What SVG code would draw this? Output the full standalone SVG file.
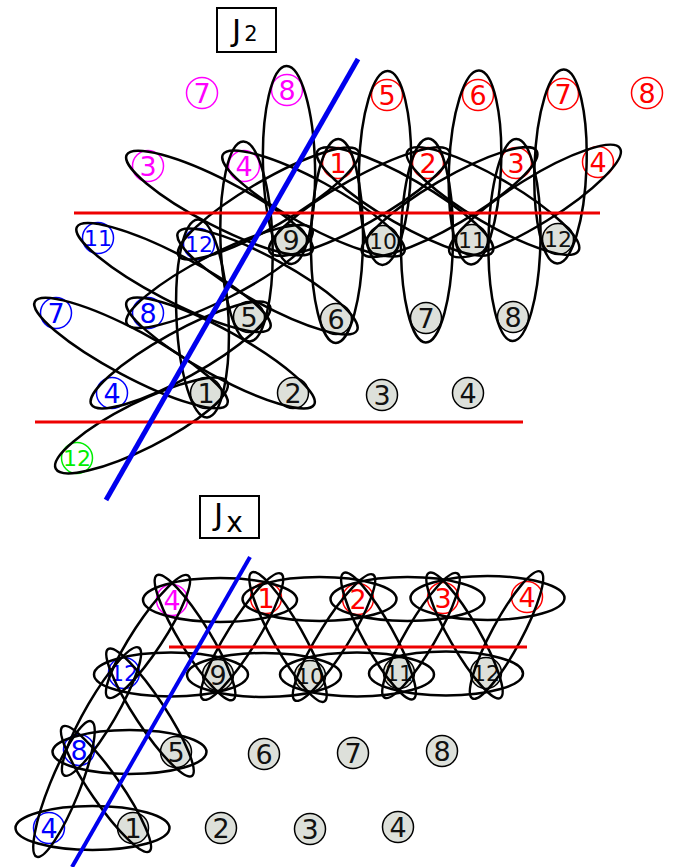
<svg xmlns="http://www.w3.org/2000/svg" width="678" height="867" viewBox="0 0 678 867">
<style>
text{font-family:"DejaVu Sans","Liberation Sans",sans-serif;text-anchor:middle}
.gn circle{fill:#dde0da;stroke:#000;stroke-width:1.5}
.gn text{fill:#111}
.rd circle{fill:#fff;stroke:#f00;stroke-width:1.5}
.rd text{fill:#f00}
.mg circle{fill:#fff;stroke:#f0f;stroke-width:1.5}
.mg text{fill:#f0f}
.bl circle{fill:#fff;stroke:#00f;stroke-width:1.5}
.bl text{fill:#00f}
.gr circle{fill:#fff;stroke:#0e0;stroke-width:1.5}
.gr text{fill:#0e0}
.s{font-size:27px}
.d{font-size:22px}
.bonds ellipse{fill:none;stroke:#000;stroke-width:2.5}
.rl{stroke:#e00;stroke-width:3}
.bline{stroke:#00e}
.lbl rect{fill:#fff;stroke:#000;stroke-width:2}
.lbl text{text-anchor:start}
</style>

<g id="label-J2" class="lbl"><rect x="217" y="8" width="59" height="44"/><text x="232" y="41" font-size="31">J<tspan font-size="21" dx="3">2</tspan></text></g>
<g id="label-Jx" class="lbl"><rect x="200" y="496" width="59" height="42"/><text x="214" y="525" font-size="31">J<tspan font-size="28" dx="3" dy="7">x</tspan></text></g>

<!-- top diagram nodes -->
<g id="t1" class="gn"><circle cx="206" cy="393" r="15.5"/><text x="206" y="403" class="s">1</text></g>
<g id="t2" class="gn"><circle cx="293" cy="393" r="15.5"/><text x="293" y="403" class="s">2</text></g>
<g id="t3" class="gn"><circle cx="382" cy="395" r="15.5"/><text x="382" y="405" class="s">3</text></g>
<g id="t4" class="gn"><circle cx="468" cy="393" r="15.5"/><text x="468" y="403" class="s">4</text></g>
<g id="t5" class="gn"><circle cx="249" cy="317" r="15.5"/><text x="249" y="327" class="s">5</text></g>
<g id="t6" class="gn"><circle cx="336" cy="319" r="15.5"/><text x="336" y="329" class="s">6</text></g>
<g id="t7" class="gn"><circle cx="426" cy="318" r="15.5"/><text x="426" y="328" class="s">7</text></g>
<g id="t8" class="gn"><circle cx="513" cy="317" r="15.5"/><text x="513" y="327" class="s">8</text></g>
<g id="t9" class="gn"><circle cx="291" cy="240" r="15.5"/><text x="291" y="250" class="s">9</text></g>
<g id="t10" class="gn"><circle cx="383" cy="241" r="15.5"/><text x="383" y="249" class="d">10</text></g>
<g id="t11" class="gn"><circle cx="472" cy="240" r="15.5"/><text x="472" y="248" class="d">11</text></g>
<g id="t12" class="gn"><circle cx="558" cy="239" r="15.5"/><text x="558" y="247" class="d">12</text></g>
<g id="tr1" class="rd"><circle cx="338" cy="163" r="15.5"/><text x="338" y="173" class="s">1</text></g>
<g id="tr2" class="rd"><circle cx="428" cy="163" r="15.5"/><text x="428" y="173" class="s">2</text></g>
<g id="tr3" class="rd"><circle cx="516" cy="163" r="15.5"/><text x="516" y="173" class="s">3</text></g>
<g id="tr4" class="rd"><circle cx="598" cy="162" r="15.5"/><text x="598" y="172" class="s">4</text></g>
<g id="tr5" class="rd"><circle cx="387" cy="95" r="15.5"/><text x="387" y="105" class="s">5</text></g>
<g id="tr6" class="rd"><circle cx="478" cy="95" r="15.5"/><text x="478" y="105" class="s">6</text></g>
<g id="tr7" class="rd"><circle cx="563" cy="94" r="15.5"/><text x="563" y="104" class="s">7</text></g>
<g id="tr8" class="rd"><circle cx="647" cy="93" r="15.5"/><text x="647" y="103" class="s">8</text></g>
<g id="tm7" class="mg"><circle cx="202" cy="93" r="15.5"/><text x="202" y="103" class="s">7</text></g>
<g id="tm8" class="mg"><circle cx="287" cy="90" r="15.5"/><text x="287" y="100" class="s">8</text></g>
<g id="tm3" class="mg"><circle cx="148" cy="166" r="15.5"/><text x="148" y="176" class="s">3</text></g>
<g id="tm4" class="mg"><circle cx="244" cy="166" r="15.5"/><text x="244" y="176" class="s">4</text></g>
<g id="tb11" class="bl"><circle cx="98" cy="238" r="15.5"/><text x="98" y="246" class="d">11</text></g>
<g id="tb12" class="bl"><circle cx="199" cy="244" r="15.5"/><text x="199" y="252" class="d">12</text></g>
<g id="tb7" class="bl"><circle cx="56" cy="313" r="15.5"/><text x="56" y="323" class="s">7</text></g>
<g id="tb8" class="bl"><circle cx="148" cy="313" r="15.5"/><text x="148" y="323" class="s">8</text></g>
<g id="tb4" class="bl"><circle cx="112" cy="393" r="15.5"/><text x="112" y="403" class="s">4</text></g>
<g id="tg12" class="gr"><circle cx="77" cy="458" r="15.5"/><text x="77" y="466" class="d">12</text></g>

<!-- bottom diagram nodes -->
<g id="b1" class="gn"><circle cx="133" cy="828" r="15.5"/><text x="133" y="838" class="s">1</text></g>
<g id="b2" class="gn"><circle cx="221" cy="828" r="15.5"/><text x="221" y="838" class="s">2</text></g>
<g id="b3" class="gn"><circle cx="310" cy="829" r="15.5"/><text x="310" y="839" class="s">3</text></g>
<g id="b4" class="gn"><circle cx="398" cy="827" r="15.5"/><text x="398" y="837" class="s">4</text></g>
<g id="b5" class="gn"><circle cx="176" cy="752" r="15.5"/><text x="176" y="762" class="s">5</text></g>
<g id="b6" class="gn"><circle cx="264" cy="754" r="15.5"/><text x="264" y="764" class="s">6</text></g>
<g id="b7" class="gn"><circle cx="353" cy="753" r="15.5"/><text x="353" y="763" class="s">7</text></g>
<g id="b8" class="gn"><circle cx="442" cy="751" r="15.5"/><text x="442" y="761" class="s">8</text></g>
<g id="b9" class="gn"><circle cx="218" cy="675" r="15.5"/><text x="218" y="685" class="s">9</text></g>
<g id="b10" class="gn"><circle cx="310" cy="676" r="15.5"/><text x="310" y="684" class="d">10</text></g>
<g id="b11" class="gn"><circle cx="399" cy="673" r="15.5"/><text x="399" y="681" class="d">11</text></g>
<g id="b12" class="gn"><circle cx="486" cy="673" r="15.5"/><text x="486" y="681" class="d">12</text></g>
<g id="br1" class="rd"><circle cx="266" cy="598" r="15.5"/><text x="266" y="608" class="s">1</text></g>
<g id="br2" class="rd"><circle cx="358" cy="599" r="15.5"/><text x="358" y="609" class="s">2</text></g>
<g id="br3" class="rd"><circle cx="443" cy="598" r="15.5"/><text x="443" y="608" class="s">3</text></g>
<g id="br4" class="rd"><circle cx="527" cy="597" r="15.5"/><text x="527" y="607" class="s">4</text></g>
<g id="bm4" class="mg"><circle cx="172" cy="600" r="15.5"/><text x="172" y="610" class="s">4</text></g>
<g id="bb12" class="bl"><circle cx="124" cy="673" r="15.5"/><text x="124" y="681" class="d">12</text></g>
<g id="bb8" class="bl"><circle cx="79" cy="750" r="15.5"/><text x="79" y="760" class="s">8</text></g>
<g id="bb4" class="bl"><circle cx="49" cy="828" r="15.5"/><text x="49" y="838" class="s">4</text></g>

<g id="bonds" class="bonds">
<!-- top vertical -->
<ellipse cx="289" cy="165" rx="99" ry="26" transform="rotate(88.5 289 165)"/>
<ellipse cx="385" cy="168" rx="97" ry="26" transform="rotate(91.6 385 168)"/>
<ellipse cx="475" cy="167.5" rx="97" ry="26" transform="rotate(92.4 475 167.5)"/>
<ellipse cx="560.5" cy="166.5" rx="97" ry="26" transform="rotate(92 560.5 166.5)"/>
<ellipse cx="246.5" cy="241.5" rx="100" ry="26" transform="rotate(88.1 246.5 241.5)"/>
<ellipse cx="337" cy="241" rx="102" ry="26" transform="rotate(90.7 337 241)"/>
<ellipse cx="427" cy="240.5" rx="102" ry="26" transform="rotate(90.7 427 240.5)"/>
<ellipse cx="514.5" cy="240" rx="101" ry="26" transform="rotate(91.1 514.5 240)"/>
<ellipse cx="202.5" cy="318.5" rx="99" ry="26" transform="rotate(87.3 202.5 318.5)"/>
<!-- top diagonal -->
<ellipse cx="131" cy="353" rx="109" ry="23" transform="rotate(28.1 131 353)"/>
<ellipse cx="220.5" cy="353" rx="107" ry="23" transform="rotate(28.9 220.5 353)"/>
<ellipse cx="173.5" cy="277.5" rx="109" ry="23" transform="rotate(27.6 173.5 277.5)"/>
<ellipse cx="267.5" cy="281.5" rx="102" ry="23" transform="rotate(28.7 267.5 281.5)"/>
<ellipse cx="219.5" cy="203" rx="104.5" ry="23" transform="rotate(27.4 219.5 203)"/>
<ellipse cx="313.5" cy="203.5" rx="103" ry="23" transform="rotate(28.4 313.5 203.5)"/>
<ellipse cx="405" cy="201.5" rx="101" ry="23" transform="rotate(29.9 405 201.5)"/>
<ellipse cx="493" cy="201" rx="99" ry="23" transform="rotate(30.3 493 201)"/>
<ellipse cx="180.5" cy="355" rx="102" ry="23" transform="rotate(-29 180.5 355)"/>
<ellipse cx="219.5" cy="276.5" rx="104" ry="23" transform="rotate(-27 219.5 276.5)"/>
<ellipse cx="359.5" cy="201.5" rx="103" ry="23" transform="rotate(-29.3 359.5 201.5)"/>
<ellipse cx="449.5" cy="202" rx="101" ry="23" transform="rotate(-30.4 449.5 202)"/>
<ellipse cx="535" cy="201" rx="100" ry="23" transform="rotate(-31.8 535 201)"/>
<ellipse cx="268.5" cy="203.5" rx="104" ry="23" transform="rotate(-30.2 268.5 203.5)"/>
<ellipse cx="141.5" cy="425.5" rx="96" ry="23" transform="rotate(-26.7 141.5 425.5)"/>
<!-- bottom horizontal -->
<ellipse cx="92.5" cy="828" rx="77" ry="22"/>
<ellipse cx="129.5" cy="752" rx="77" ry="22"/>
<ellipse cx="171" cy="674.5" rx="77" ry="22"/>
<ellipse cx="264" cy="675" rx="77" ry="22"/>
<ellipse cx="357" cy="674.5" rx="77" ry="22"/>
<ellipse cx="446" cy="673.5" rx="77" ry="22"/>
<ellipse cx="220" cy="600" rx="77" ry="22"/>
<ellipse cx="319.5" cy="599" rx="77" ry="22"/>
<ellipse cx="407.5" cy="599" rx="77" ry="22"/>
<ellipse cx="487.5" cy="598" rx="77" ry="22"/>
<!-- bottom diagonal -->
<ellipse cx="148" cy="636.5" rx="73" ry="15" transform="rotate(123.3 148 636.5)"/>
<ellipse cx="195" cy="637.5" rx="73" ry="15" transform="rotate(58.5 195 637.5)"/>
<ellipse cx="242" cy="636.5" rx="74" ry="15" transform="rotate(121.9 242 636.5)"/>
<ellipse cx="288" cy="637" rx="74" ry="15" transform="rotate(60.6 288 637)"/>
<ellipse cx="334" cy="637.5" rx="74" ry="15" transform="rotate(121.9 334 637.5)"/>
<ellipse cx="378.5" cy="636" rx="72" ry="15" transform="rotate(61 378.5 636)"/>
<ellipse cx="421" cy="635.5" rx="72" ry="15" transform="rotate(120.4 421 635.5)"/>
<ellipse cx="464.5" cy="635.5" rx="72" ry="15" transform="rotate(60.2 464.5 635.5)"/>
<ellipse cx="506.5" cy="635" rx="72" ry="15" transform="rotate(118.3 506.5 635)"/>
<ellipse cx="101.5" cy="711.5" rx="74" ry="15" transform="rotate(120.3 101.5 711.5)"/>
<ellipse cx="150" cy="712.5" rx="76" ry="15" transform="rotate(56.6 150 712.5)"/>
<ellipse cx="64" cy="789" rx="73" ry="15" transform="rotate(112 64 789)"/>
<ellipse cx="106" cy="789" rx="76" ry="15" transform="rotate(55.3 106 789)"/>
</g>

<g id="boundaries">
<line class="rl" x1="74" y1="213" x2="600" y2="213"/>
<line class="rl" x1="35" y1="422" x2="523" y2="422"/>
<line class="rl" x1="169" y1="647" x2="527" y2="647"/>
<line class="bline" x1="106" y1="500" x2="358" y2="59" stroke-width="5"/>
<line class="bline" x1="250" y1="557" x2="72" y2="867" stroke-width="4"/>
</g>
</svg>
